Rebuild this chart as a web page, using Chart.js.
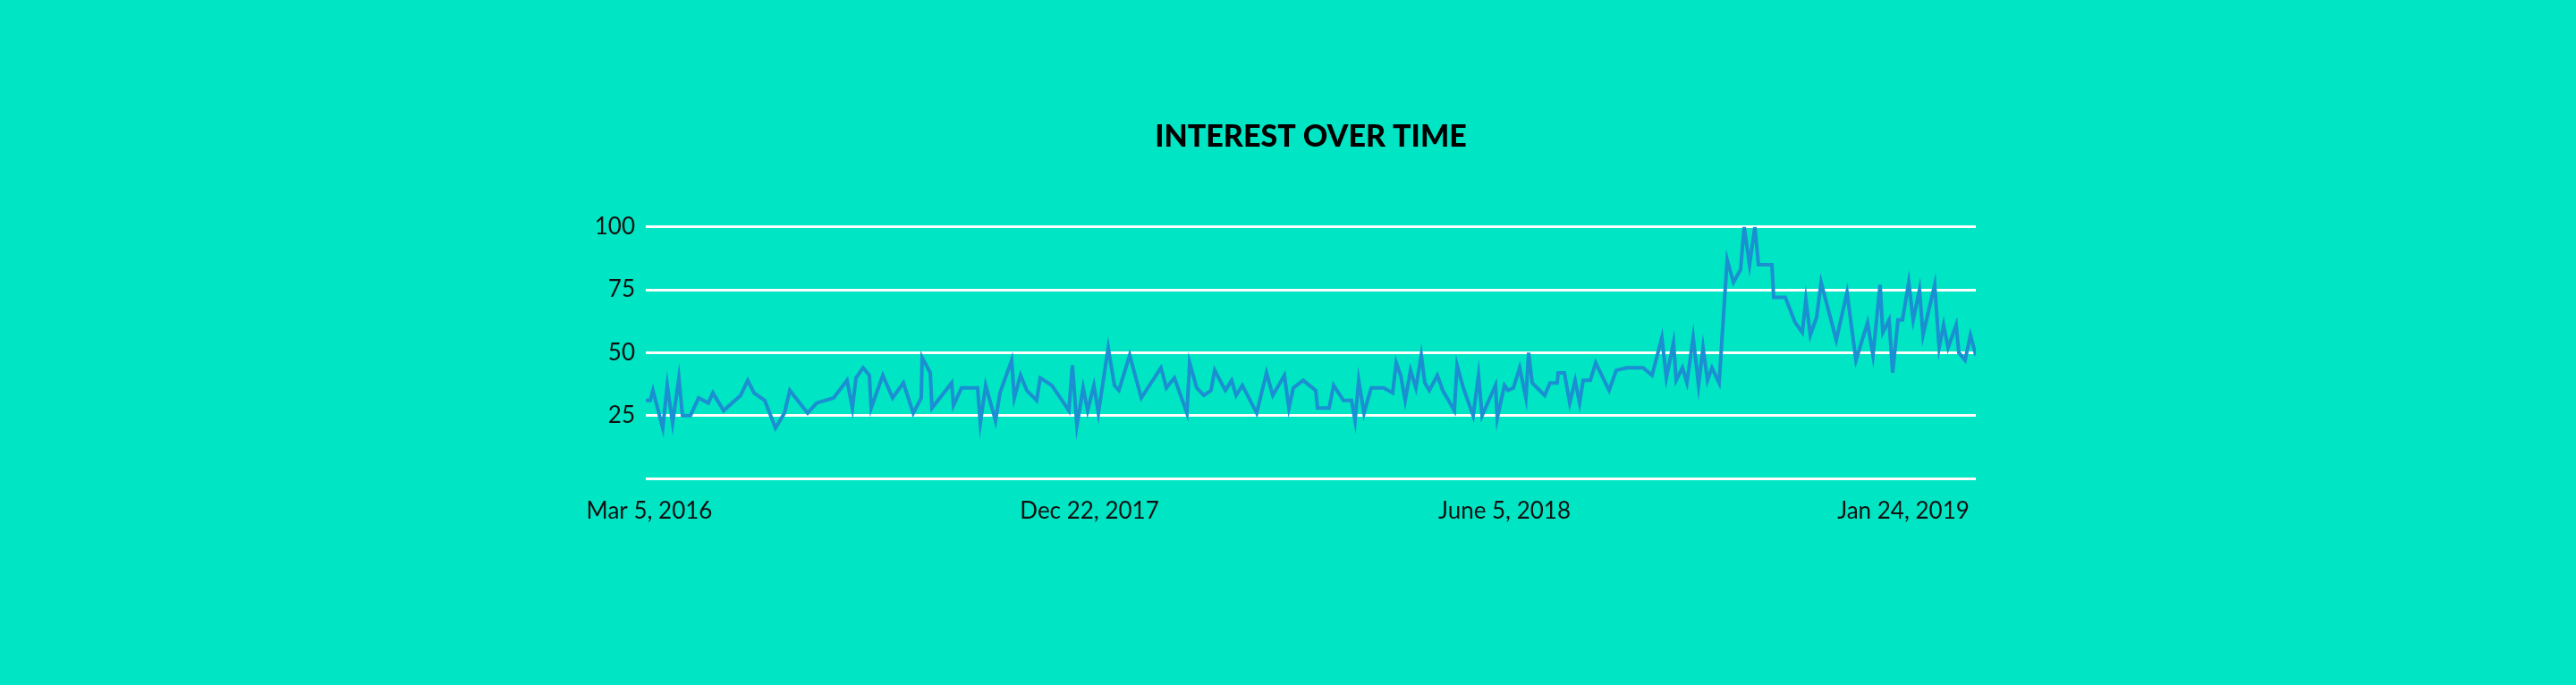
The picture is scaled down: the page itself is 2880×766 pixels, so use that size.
<!DOCTYPE html>
<html>
<head>
<meta charset="utf-8">
<title>Interest over time</title>
<script src="https://cdn.jsdelivr.net/npm/chart.js@4.4.1/dist/chart.umd.min.js"></script>
<style>
    html, body {
        margin: 0;
        padding: 0;
        background: #00e5c4;
        overflow: hidden;
    }
    canvas {
        display: block;
    }
</style>
</head>
<body>
<canvas id="trendChart" width="2880" height="766"></canvas>
<script>
// Position of each sample along the timeline (0 = first sample, 1487 = last)
const samplePos = [
    0, 5, 8, 19, 24, 30, 37, 41, 50, 59, 70, 75, 87, 106, 114, 121, 133, 145, 155, 161, 181, 191, 210, 225, 231, 235, 243,
    250, 252, 265, 276, 288, 299, 308, 309, 318, 320, 342, 344, 353, 371, 374, 380, 391, 396, 409, 412, 419, 426, 437, 441, 454, 473, 477, 482, 489, 494,
    501, 506, 517, 524, 529, 541, 554, 576, 582, 591, 605, 608, 616, 624, 632, 636, 648, 655, 660, 667, 683, 694, 701, 714, 719, 724, 735,
    749, 751, 764, 769, 780, 789, 793, 797, 803, 811, 825, 835, 839, 844, 849, 855, 861, 867, 871, 876, 885, 891, 904, 907, 914, 925, 931, 935, 950, 952, 960, 964, 970, 977, 984, 987,
    991, 1005, 1011, 1019, 1020, 1027, 1033, 1039, 1044, 1048, 1056, 1062, 1077, 1085, 1097, 1115, 1125, 1136, 1141, 1149, 1152, 1159, 1164, 1171, 1177, 1182, 1187, 1192, 1200, 1209, 1216, 1224, 1228, 1234, 1240, 1244,
    1259, 1261, 1274, 1285, 1293, 1297, 1302, 1309, 1314, 1331, 1343, 1353, 1366, 1372, 1380, 1383, 1390, 1394, 1400, 1405, 1412, 1417, 1424, 1428, 1441, 1446, 1451, 1456, 1465, 1468, 1475, 1481, 1487
];

// Interest score (0-100) at each sample
const interest = [
    31, 31, 35, 20, 37, 22, 40, 25, 25, 32, 30, 34, 27, 33, 39, 34, 31, 20, 26, 35, 26, 30, 32, 39, 28, 40, 44,
    41, 28, 41, 32, 38, 26, 32, 48, 42, 28, 38, 29, 36, 36, 22, 37, 23, 34, 47, 32, 41, 35, 31, 40, 37, 27, 45, 21, 36, 27,
    37, 26, 52, 37, 35, 49, 32, 44, 36, 40, 26, 46, 36, 33, 35, 43, 35, 39, 33, 37, 26, 42, 33, 41, 28, 36, 39,
    35, 28, 28, 37, 31, 31, 23, 39, 26, 36, 36, 34, 46, 41, 31, 43, 36, 49, 38, 35, 41, 35, 27, 45, 36, 25, 41, 25, 37, 24, 37, 35, 36, 44, 32, 50,
    38, 33, 38, 38, 42, 42, 30, 39, 30, 39, 39, 46, 35, 43, 44, 44, 41, 56, 40, 54, 39, 44, 38, 56, 37, 52, 39, 44, 38, 87, 78, 83, 100, 85, 100, 85,
    85, 72, 72, 62, 58, 71, 57, 64, 78, 55, 74, 47, 62, 49, 77, 58, 63, 42, 63, 63, 78, 63, 75, 57, 77, 52, 61, 52, 61, 50, 47, 57, 49
];

// Date labels shown under the axis and where they sit on the timeline
const dateTickPos = [4, 496, 960, 1406];
const dateTickLabels = ['Mar 5, 2016', 'Dec 22, 2017', 'June 5, 2018', 'Jan 24, 2019'];

const yTicks = [0, 25, 50, 75, 100];

const points = samplePos.map((p, i) => ({ x: p, y: interest[i] }));

const ctx = document.getElementById('trendChart').getContext('2d');

new Chart(ctx, {
    type: 'line',
    data: {
        datasets: [{
            label: 'Interest',
            data: points,
            borderColor: '#1a8fd1',
            borderWidth: 4,
            pointRadius: 0,
            tension: 0,
            fill: false,
            borderJoinStyle: 'miter'
        }]
    },
    options: {
        responsive: false,
        devicePixelRatio: 1,
        animation: false,
        layout: {
            padding: {
                top: 100,
                left: 600,
                right: 671,
                bottom: 171
            }
        },
        plugins: {
            legend: {
                display: false
            },
            tooltip: {
                enabled: false
            },
            title: {
                display: true,
                fullSize: false,
                text: 'INTEREST OVER TIME',
                color: '#000000',
                font: {
                    family: 'Lato',
                    size: 34,
                    weight: '900',
                    lineHeight: 1.2
                },
                padding: {
                    top: 33,
                    bottom: 80
                }
            }
        },
        scales: {
            x: {
                type: 'linear',
                min: 0,
                max: 1487,
                grid: {
                    display: false
                },
                border: {
                    display: false
                },
                afterBuildTicks: function(scale) {
                    scale.ticks = dateTickPos.map(v => ({ value: v }));
                },
                afterFit: function(scale) {
                    scale.height = 60;
                },
                ticks: {
                    autoSkip: false,
                    maxRotation: 0,
                    padding: 13,
                    color: '#111111',
                    font: {
                        family: 'Lato',
                        size: 26
                    },
                    callback: function(value) {
                        const idx = dateTickPos.indexOf(value);
                        return idx >= 0 ? dateTickLabels[idx] : '';
                    }
                }
            },
            y: {
                min: 0,
                max: 100,
                afterBuildTicks: function(scale) {
                    scale.ticks = yTicks.map(v => ({ value: v }));
                },
                afterFit: function(scale) {
                    scale.width = 122;
                },
                grid: {
                    color: '#ffffff',
                    lineWidth: 3,
                    drawTicks: false
                },
                border: {
                    display: false
                },
                ticks: {
                    padding: 12,
                    color: '#111111',
                    font: {
                        family: 'Lato',
                        size: 26
                    },
                    callback: function(value) {
                        return value === 0 ? '' : value;
                    }
                }
            }
        }
    }
});
</script>
</body>
</html>
